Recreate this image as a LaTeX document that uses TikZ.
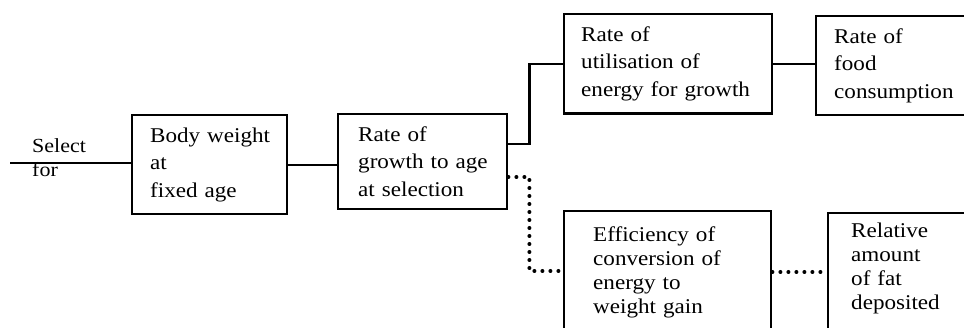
\documentclass[tikz,border=0pt]{standalone}
\usepackage{fontspec}
\setmainfont{Liberation Serif}[FakeStretch=1.1]
\tikzset{
  box/.style={draw, line width=2.4pt, align=left, anchor=north west,
    inner xsep=18pt, inner ysep=12.4pt, font=\fontsize{21}{27.5}\selectfont},
  lowbox/.style={box, font=\fontsize{21}{24}\selectfont},
  lbl/.style={anchor=base west, inner sep=0pt, font=\fontsize{20}{24}\selectfont},
  link/.style={line width=2.2pt},
  dots/.style={line width=4pt, line cap=round, dash pattern=on 0pt off 8pt},
}
\begin{document}
\begin{tikzpicture}[x=1pt, y=-1pt]
  \useasboundingbox (0,0) rectangle (964,328);
  \coordinate (in) at (10,163);
  \node[box, text width=119pt] (body) at (131,114) {Body~weight\\at\\fixed age};
  \node[box, inner xsep=20pt, text width=129pt] (growth) at (337,113) {Rate of\\growth~to~age\\at selection};
  \node[box, inner xsep=17pt, text width=174pt] (util) at (563,13) {Rate of\\utilisation of\\energy for growth};
  \node[box, text width=220pt] (food) at (815,15) {Rate of\\food\\consumption};
  % lower row runs off the page
  \node[lowbox, inner xsep=29pt, inner ysep=15.4pt, text width=149pt] (eff) at (563,210)
    {Efficiency of\\conversion of\\energy to\\weight gain\rule[-30pt]{0pt}{30pt}};
  \node[lowbox, inner xsep=23pt, inner ysep=9.4pt, text width=220pt] (fat) at (827,212)
    {Relative\\amount\\of fat\\deposited\rule[-30pt]{0pt}{30pt}};
  \node[lbl] (sel) at (32,153) {Select};
  \node[lbl] (for) at (32,177) {for};
  \draw[link] (in) -- (in -| body.west);
  \draw[link] (body.east) -- (body.east -| growth.west);
  \draw[link] ([yshift=-31pt]growth.north east) -- ++(21,0) |- (util.west);
  \draw[link] (util.east) -- (util.east -| food.west);
  \draw[dots] ([yshift=-64pt]growth.north east) -- ++(21,0) |- ([yshift=-61pt]eff.north west);
  \draw[dots] ([yshift=-62pt]eff.north east) -- ([yshift=-60pt]fat.north west);
\end{tikzpicture}
\end{document}
